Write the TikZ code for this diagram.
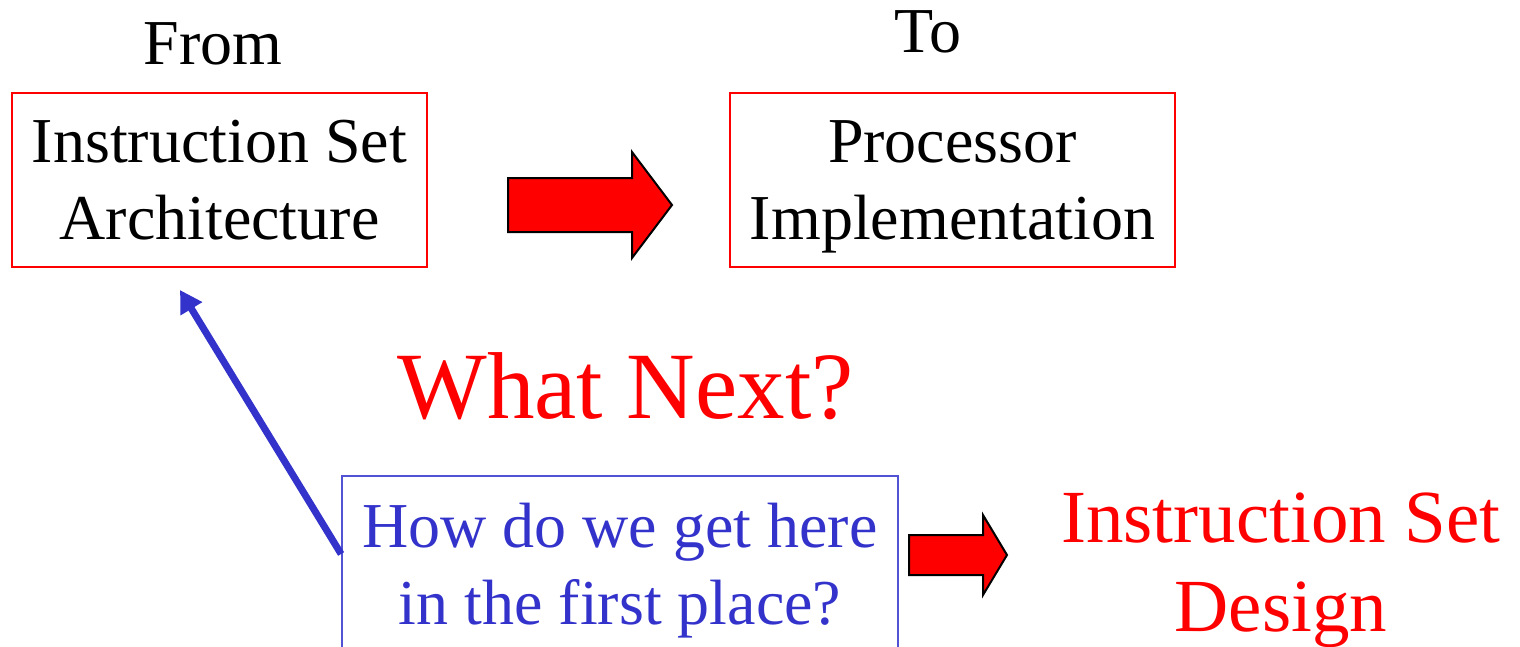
\documentclass[tikz,border=0pt]{standalone}
\usepackage{fontspec}
\setmainfont{Liberation Serif}
\usetikzlibrary{%
    arrows.meta,
    positioning
}
\definecolor{slideblue}{RGB}{51,51,204}
\definecolor{slidered}{RGB}{255,0,0}

\begin{document}
\begin{tikzpicture}[x=0.5pt,y=-0.5pt,
    box/.style={draw=slidered, line width=0.9pt, minimum width=207.5pt,
        minimum height=87pt, inner sep=0pt, align=center,
        font=\fontsize{32}{38.5}\selectfont},
    heading/.style={anchor=base, inner sep=0pt, font=\fontsize{32}{38.5}\selectfont},
    blockarrow/.style={fill=slidered, draw=black, line width=1pt, line join=miter}]
    \clip (0,0) rectangle (1520,647);

    \node[heading] (from) at (213,65) {From};
    \node[heading] (to)   at (928,53) {To};

    \node[box] (isa)  at (219.5,180) {Instruction Set\\Architecture};
    \node[box, minimum width=222.5pt] (impl) at (952.5,180) {Processor\\Im\smash{p}lementation};

    \node[anchor=base, inner sep=0pt, text=slidered,
        font=\fontsize{47.5}{57}\selectfont] (next) at (625.5,418) {What Next?};

    \node[box, draw=slideblue!85!white, text=slideblue, minimum width=278pt,
        minimum height=88pt] (how) at (620,564) {How do we get here\\in the first \smash{p}lace?};
    \node[align=center, inner sep=0pt, text=slidered,
        font=\fontsize{37.5}{44.5}\selectfont] (isd) at (1281,570) {Instruction Set\\Design};

    \coordinate (isa tip) at (180,290);
    \draw[slideblue, line width=3.5pt, -{Triangle[length=11pt,width=12pt]}]
        ([yshift=5pt]how.west) -- (isa tip);

    % block arrows
    \filldraw[blockarrow] (508,178) -- (632,178) -- (632,152) -- (672,205)
        -- (632,258) -- (632,232) -- (508,232) -- cycle;
    \filldraw[blockarrow] (909,535) -- (983,535) -- (983,515) -- (1007,555)
        -- (983,595) -- (983,575) -- (909,575) -- cycle;
\end{tikzpicture}
\end{document}
